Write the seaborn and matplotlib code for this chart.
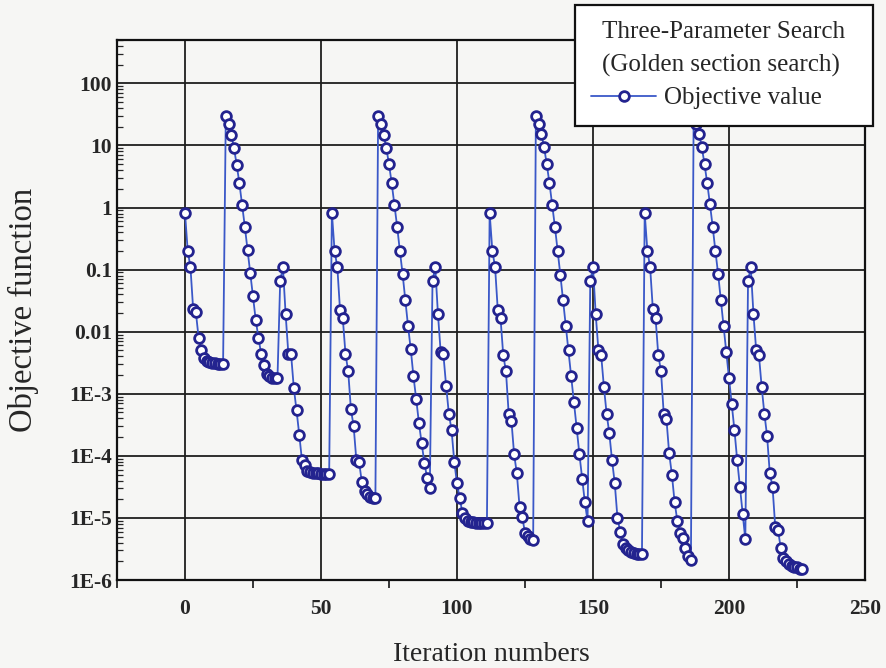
import matplotlib
matplotlib.use("Agg")
import numpy as np
import pandas as pd
import seaborn as sns
import matplotlib.pyplot as plt
from matplotlib.ticker import FixedLocator, FixedFormatter, LogLocator, NullFormatter, MultipleLocator

# Objective value per iteration, one list per one-parameter golden-section sweep
sweep_a1 = [0.82, 0.2, 0.11, 0.023, 0.0205, 0.008, 0.0051, 0.0037, 0.0034, 0.0032,
            0.0031, 0.0031, 0.003, 0.003, 0.003]
sweep_b1 = [30, 22, 15, 9.1, 4.9, 2.45, 1.1, 0.49, 0.21, 0.087, 0.037, 0.0155, 0.008,
            0.0044, 0.0029, 0.0021, 0.0019, 0.0018, 0.0018, 0.0018]
sweep_c1 = [0.066, 0.11, 0.019, 0.0044, 0.0043, 0.00125, 0.00054, 0.00022, 8.5e-5, 7e-5,
            5.6e-5, 5.4e-5, 5.3e-5, 5.2e-5, 5.2e-5, 5.1e-5, 5.1e-5, 5.1e-5, 5.1e-5]
sweep_a2 = [0.82, 0.2, 0.11, 0.022, 0.0166, 0.0044, 0.0023, 0.00056, 0.0003, 8.5e-5,
            8e-5, 3.8e-5, 2.7e-5, 2.4e-5, 2.2e-5, 2.1e-5, 2.1e-5]
sweep_b2 = [30, 22.5, 15, 9.1, 5, 2.45, 1.1, 0.49, 0.2, 0.085, 0.032, 0.0123, 0.0052,
            0.0019, 8.2e-4, 3.4e-4, 1.6e-4, 7.8e-5, 4.4e-5, 3e-5]
sweep_c2 = [0.066, 0.11, 0.019, 0.0047, 0.0043, 0.00134, 0.00048, 0.00026, 8e-5, 3.6e-5,
            2.1e-5, 1.2e-5, 1e-5, 9e-6, 8.7e-6, 8.5e-6, 8.4e-6, 8.3e-6, 8.3e-6, 8.3e-6, 8.3e-6]
sweep_a3 = [0.82, 0.2, 0.11, 0.022, 0.0166, 0.0042, 0.0023, 0.00048, 0.00037, 1.06e-4,
            5.2e-5, 1.5e-5, 1.04e-5, 5.7e-6, 5.2e-6, 4.6e-6, 4.4e-6]
sweep_b3 = [30, 22.5, 15.5, 9.4, 5, 2.45, 1.1, 0.49, 0.2, 0.082, 0.032, 0.0123, 0.005,
            0.0019, 7.3e-4, 2.8e-4, 1.06e-4, 4.3e-5, 1.8e-5, 8.9e-6]
sweep_c3 = [0.066, 0.11, 0.019, 0.005, 0.0042, 0.0013, 4.8e-4, 2.3e-4, 8.5e-5, 3.6e-5,
            1e-5, 6e-6, 3.8e-6, 3.3e-6, 3e-6, 2.8e-6, 2.7e-6, 2.6e-6, 2.6e-6, 2.6e-6]
sweep_a4 = [0.82, 0.2, 0.11, 0.023, 0.0166, 0.0042, 0.0023, 4.8e-4, 3.9e-4, 1.1e-4,
            5e-5, 1.8e-5, 9e-6, 5.7e-6, 4.8e-6, 3.3e-6, 2.4e-6, 2.1e-6]
sweep_b4 = [30, 22, 15.5, 9.4, 5, 2.45, 1.13, 0.49, 0.2, 0.085, 0.032, 0.0123, 0.0047,
            0.0018, 6.8e-4, 2.6e-4, 8.6e-5, 3.2e-5, 1.15e-5, 4.5e-6]
sweep_c4 = [0.066, 0.11, 0.019, 0.005, 0.0042, 0.0013, 4.8e-4, 2.1e-4, 5.2e-5, 3.2e-5,
            7.2e-6, 6.5e-6, 3.3e-6, 2.3e-6, 2e-6, 1.8e-6, 1.7e-6, 1.6e-6, 1.6e-6, 1.5e-6, 1.5e-6]

sweeps = [sweep_a1, sweep_b1, sweep_c1, sweep_a2, sweep_b2, sweep_c2,
          sweep_a3, sweep_b3, sweep_c3, sweep_a4, sweep_b4, sweep_c4]

y_ticks = [1e-6, 1e-5, 1e-4, 1e-3, 1e-2, 1e-1, 1, 10, 100]
y_tick_labels = ["1E-6", "1E-5", "1E-4", "1E-3", "0.01", "0.1", "1", "10", "100"]

objective = [v for s in sweeps for v in s]
df = pd.DataFrame({"iteration": np.arange(len(objective)), "objective": objective})

sns.set_style("white")
plt.rcParams["font.family"] = ["Liberation Serif", "DejaVu Serif"]

W, H = 887, 668
bg = "#f6f6f4"
fig = plt.figure(figsize=(W / 100, H / 100), dpi=100, facecolor=bg)
ax = fig.add_axes([117 / W, 1 - 580 / H, (865 - 117) / W, (580 - 40) / H])
ax.set_facecolor(bg)

sns.lineplot(data=df, x="iteration", y="objective", ax=ax, color="#3a58c8",
             linewidth=1.3, marker="o", markersize=7, markerfacecolor="white",
             markeredgecolor="#23238f", markeredgewidth=2.0, label="Objective value")

ax.set_yscale("log")
ax.set_ylim(1e-6, 500)
ax.set_xlim(-25, 250)

ax.yaxis.set_major_locator(FixedLocator(y_ticks))
ax.yaxis.set_major_formatter(FixedFormatter(y_tick_labels))
ax.yaxis.set_minor_locator(LogLocator(base=10, subs=np.arange(2, 10), numticks=20))
ax.yaxis.set_minor_formatter(NullFormatter())
ax.xaxis.set_major_locator(MultipleLocator(50))
ax.xaxis.set_minor_locator(MultipleLocator(25))

ax.grid(True, which="major", color="#1e1e1e", linewidth=1.3)
for side in ["left", "right", "top", "bottom"]:
    ax.spines[side].set_color("#111111")
    ax.spines[side].set_linewidth(1.6)

ax.tick_params(axis="y", which="major", direction="out", length=2.5, width=1.3,
               labelsize=15.5, color="#111111", pad=1)
ax.tick_params(axis="x", which="major", direction="out", length=8, width=1.3,
               labelsize=15.5, color="#111111", pad=6)
ax.tick_params(axis="y", which="minor", direction="in", length=4, width=0.9, left=True)
ax.tick_params(axis="x", which="minor", direction="out", length=6, width=1.3, bottom=True)
plt.setp(ax.get_xticklabels() + ax.get_yticklabels(), fontweight="bold")

ax.set_xlabel("Iteration numbers", fontsize=20, labelpad=16)
ax.set_ylabel("Objective function", fontsize=23.5, labelpad=22)

leg = ax.legend(title="Three-Parameter Search\n(Golden section search)",
                loc="upper left", bbox_to_anchor=(575 / W, 1 - 125 / H, 298 / W, 120 / H),
                bbox_transform=fig.transFigure, mode="expand", borderaxespad=0,
                frameon=True, fancybox=False, edgecolor="#111111", facecolor="white",
                framealpha=1, fontsize=18, title_fontsize=18, handlelength=2.6,
                borderpad=0.65, labelspacing=0.4, handletextpad=0.3)
leg.get_title().set_linespacing(1.59)
leg.get_frame().set_linewidth(1.6)

fig.savefig("out.png", dpi=100, facecolor=bg)
